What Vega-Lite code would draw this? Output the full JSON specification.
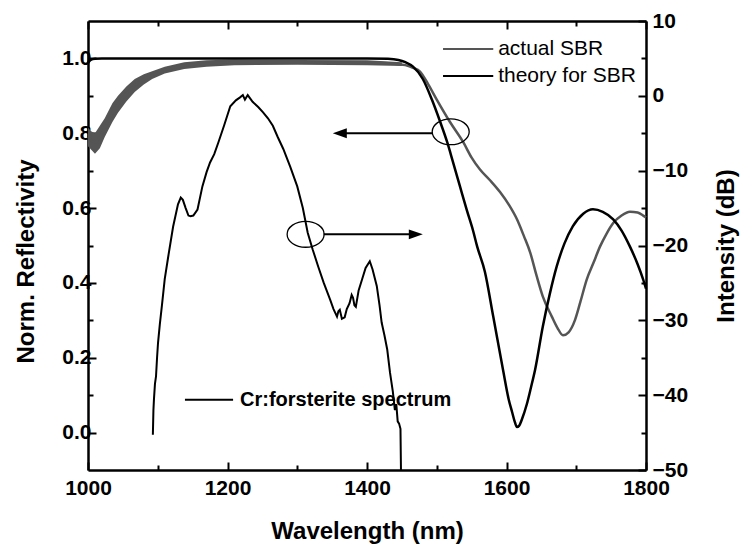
{
  "$schema": "https://vega.github.io/schema/vega-lite/v6.json",
  "width": 558,
  "height": 449,
  "autosize": "none",
  "padding": {"left": 88, "top": 21, "right": 94, "bottom": 74},
  "background": "white",
  "datasets": {
    "band": [
      {"nm": 1000, "lo": 0.765, "hi": 0.815},
      {"nm": 1005, "lo": 0.755, "hi": 0.805},
      {"nm": 1010, "lo": 0.745, "hi": 0.8},
      {"nm": 1017, "lo": 0.76, "hi": 0.82},
      {"nm": 1024, "lo": 0.79, "hi": 0.84},
      {"nm": 1035, "lo": 0.83, "hi": 0.88},
      {"nm": 1043, "lo": 0.855, "hi": 0.9},
      {"nm": 1055, "lo": 0.885, "hi": 0.925},
      {"nm": 1067, "lo": 0.91, "hi": 0.945},
      {"nm": 1080, "lo": 0.93, "hi": 0.958},
      {"nm": 1092, "lo": 0.945, "hi": 0.966},
      {"nm": 1110, "lo": 0.96, "hi": 0.978},
      {"nm": 1138, "lo": 0.972, "hi": 0.99},
      {"nm": 1170, "lo": 0.978, "hi": 0.995},
      {"nm": 1210, "lo": 0.982, "hi": 0.997},
      {"nm": 1300, "lo": 0.983, "hi": 0.996},
      {"nm": 1400, "lo": 0.982, "hi": 0.995},
      {"nm": 1450, "lo": 0.98, "hi": 0.99}
    ],
    "actual": [
      {"nm": 1000, "r": 0.79}, {"nm": 1005, "r": 0.78}, {"nm": 1010, "r": 0.775},
      {"nm": 1017, "r": 0.79}, {"nm": 1024, "r": 0.815}, {"nm": 1035, "r": 0.855},
      {"nm": 1043, "r": 0.878}, {"nm": 1055, "r": 0.905}, {"nm": 1067, "r": 0.928},
      {"nm": 1080, "r": 0.944}, {"nm": 1092, "r": 0.955}, {"nm": 1110, "r": 0.969},
      {"nm": 1138, "r": 0.981}, {"nm": 1170, "r": 0.986}, {"nm": 1210, "r": 0.99},
      {"nm": 1300, "r": 0.99}, {"nm": 1400, "r": 0.989}, {"nm": 1440, "r": 0.986},
      {"nm": 1455, "r": 0.982}, {"nm": 1466, "r": 0.975}, {"nm": 1476, "r": 0.965},
      {"nm": 1488, "r": 0.93}, {"nm": 1500, "r": 0.89}, {"nm": 1519, "r": 0.83},
      {"nm": 1538, "r": 0.776}, {"nm": 1550, "r": 0.735}, {"nm": 1562, "r": 0.703},
      {"nm": 1576, "r": 0.675}, {"nm": 1591, "r": 0.642}, {"nm": 1604, "r": 0.607},
      {"nm": 1615, "r": 0.57}, {"nm": 1625, "r": 0.525}, {"nm": 1634, "r": 0.481},
      {"nm": 1643, "r": 0.42}, {"nm": 1652, "r": 0.364}, {"nm": 1665, "r": 0.31},
      {"nm": 1673, "r": 0.28}, {"nm": 1681, "r": 0.26}, {"nm": 1689, "r": 0.268},
      {"nm": 1698, "r": 0.3}, {"nm": 1706, "r": 0.35}, {"nm": 1715, "r": 0.409},
      {"nm": 1725, "r": 0.455}, {"nm": 1734, "r": 0.497}, {"nm": 1743, "r": 0.53},
      {"nm": 1753, "r": 0.56}, {"nm": 1765, "r": 0.58}, {"nm": 1777, "r": 0.59},
      {"nm": 1788, "r": 0.588}, {"nm": 1796, "r": 0.58}, {"nm": 1800, "r": 0.575}
    ],
    "theory": [
      {"nm": 1000, "r": 0.99}, {"nm": 1004, "r": 0.996}, {"nm": 1010, "r": 0.999},
      {"nm": 1020, "r": 1.0}, {"nm": 1100, "r": 1.0}, {"nm": 1200, "r": 1.0},
      {"nm": 1300, "r": 1.0}, {"nm": 1400, "r": 1.0}, {"nm": 1430, "r": 0.999},
      {"nm": 1445, "r": 0.996}, {"nm": 1455, "r": 0.99}, {"nm": 1466, "r": 0.978},
      {"nm": 1480, "r": 0.945}, {"nm": 1493, "r": 0.89}, {"nm": 1505, "r": 0.83},
      {"nm": 1515, "r": 0.776}, {"nm": 1523, "r": 0.725}, {"nm": 1533, "r": 0.66},
      {"nm": 1543, "r": 0.595}, {"nm": 1552, "r": 0.54}, {"nm": 1558, "r": 0.497},
      {"nm": 1569, "r": 0.43}, {"nm": 1581, "r": 0.31}, {"nm": 1595, "r": 0.168},
      {"nm": 1603, "r": 0.09}, {"nm": 1608, "r": 0.055}, {"nm": 1612, "r": 0.028},
      {"nm": 1615, "r": 0.015}, {"nm": 1618, "r": 0.018}, {"nm": 1622, "r": 0.035},
      {"nm": 1629, "r": 0.075}, {"nm": 1635, "r": 0.12}, {"nm": 1641, "r": 0.168},
      {"nm": 1652, "r": 0.283}, {"nm": 1662, "r": 0.37}, {"nm": 1672, "r": 0.444},
      {"nm": 1683, "r": 0.505}, {"nm": 1695, "r": 0.551}, {"nm": 1710, "r": 0.585},
      {"nm": 1724, "r": 0.597}, {"nm": 1738, "r": 0.59}, {"nm": 1753, "r": 0.57},
      {"nm": 1765, "r": 0.54}, {"nm": 1777, "r": 0.497}, {"nm": 1788, "r": 0.45},
      {"nm": 1796, "r": 0.409}, {"nm": 1800, "r": 0.385}
    ],
    "spectrum": [
      {"nm": 1093, "db": -45.3}, {"nm": 1093.8, "db": -42}, {"nm": 1094.6, "db": -40.5},
      {"nm": 1096, "db": -38.5}, {"nm": 1097.5, "db": -37.5}, {"nm": 1099, "db": -35},
      {"nm": 1100.4, "db": -33}, {"nm": 1103, "db": -30.5}, {"nm": 1106, "db": -28},
      {"nm": 1110, "db": -24.5}, {"nm": 1115, "db": -21.5}, {"nm": 1122, "db": -17.5},
      {"nm": 1129, "db": -14.5}, {"nm": 1133, "db": -13.6}, {"nm": 1136, "db": -13.9},
      {"nm": 1140, "db": -15}, {"nm": 1144, "db": -16}, {"nm": 1147, "db": -16.1},
      {"nm": 1151, "db": -16}, {"nm": 1157, "db": -15.2}, {"nm": 1164, "db": -12.1},
      {"nm": 1170, "db": -10.2}, {"nm": 1175, "db": -8.9}, {"nm": 1181, "db": -7.8},
      {"nm": 1187, "db": -6.2}, {"nm": 1195, "db": -4}, {"nm": 1204, "db": -1.4},
      {"nm": 1212, "db": -0.6}, {"nm": 1218, "db": -0.2}, {"nm": 1222, "db": 0.1},
      {"nm": 1225, "db": -0.5}, {"nm": 1229, "db": 0.1}, {"nm": 1236, "db": -0.8},
      {"nm": 1244, "db": -1.5}, {"nm": 1251, "db": -2.2}, {"nm": 1258, "db": -3},
      {"nm": 1265, "db": -4}, {"nm": 1272, "db": -5.5}, {"nm": 1280, "db": -7.1},
      {"nm": 1290, "db": -9.5}, {"nm": 1300, "db": -12.1}, {"nm": 1308, "db": -15},
      {"nm": 1315, "db": -18.3}, {"nm": 1322, "db": -20.5}, {"nm": 1330, "db": -22.8},
      {"nm": 1338, "db": -25}, {"nm": 1347, "db": -27.2}, {"nm": 1352, "db": -28.5},
      {"nm": 1357, "db": -29.5}, {"nm": 1359, "db": -28.8}, {"nm": 1361, "db": -28.6},
      {"nm": 1364, "db": -29.8}, {"nm": 1368, "db": -29.6}, {"nm": 1371, "db": -28.5},
      {"nm": 1375, "db": -27.7}, {"nm": 1378, "db": -26.6}, {"nm": 1380, "db": -27},
      {"nm": 1382, "db": -28}, {"nm": 1384, "db": -28.2}, {"nm": 1388, "db": -26},
      {"nm": 1393, "db": -24.5}, {"nm": 1398, "db": -23}, {"nm": 1404, "db": -22.1},
      {"nm": 1408, "db": -23.2}, {"nm": 1414, "db": -25.4}, {"nm": 1418, "db": -28},
      {"nm": 1421, "db": -30.3}, {"nm": 1425, "db": -32}, {"nm": 1429, "db": -33.9},
      {"nm": 1433, "db": -37}, {"nm": 1437, "db": -39.5}, {"nm": 1440, "db": -42},
      {"nm": 1442, "db": -41.2}, {"nm": 1444, "db": -43.5}, {"nm": 1446, "db": -43.8},
      {"nm": 1448, "db": -44.5}, {"nm": 1448.7, "db": -50}
    ],
    "one": [{}]
  },
  "layer": [
    {
      "data": {"name": "band"},
      "mark": {"type": "area", "color": "#555555", "opacity": 1},
      "encoding": {
        "x": {"field": "nm", "type": "quantitative", "scale": {"domain": [1000, 1800], "nice": false, "zero": false},
          "axis": {"orient": "bottom", "values": [1000, 1100, 1200, 1300, 1400, 1500, 1600, 1700, 1800],
            "labelExpr": "datum.value % 200 === 0 ? datum.label : ''", "format": "d",
            "tickSize": {"condition": {"test": "datum.value % 200 === 0", "value": -8}, "value": -5},
            "labelPadding": 15, "title": "Wavelength (nm)", "titlePadding": 18}},
        "y": {"field": "lo", "type": "quantitative", "scale": {"domain": [-0.1, 1.1], "nice": false, "zero": false},
          "axis": {"orient": "left", "values": [0, 0.1, 0.2, 0.3, 0.4, 0.5, 0.6, 0.7, 0.8, 0.9, 1.0],
            "labelExpr": "round(datum.value*10) % 2 === 0 ? format(datum.value, '.1f') : ''",
            "tickSize": {"condition": {"test": "round(datum.value*10) % 2 === 0", "value": -8}, "value": -5},
            "labelPadding": 5, "title": "Norm. Reflectivity", "titlePadding": 23, "titleY": 240}},
        "y2": {"field": "hi"}
      }
    },
    {
      "data": {"name": "actual"},
      "mark": {"type": "line", "color": "#555555", "strokeWidth": 2.5, "interpolate": "monotone"},
      "encoding": {
        "x": {"field": "nm", "type": "quantitative", "scale": {"domain": [1000, 1800], "nice": false, "zero": false}, "axis": null},
        "y": {"field": "r", "type": "quantitative", "scale": {"domain": [-0.1, 1.1], "nice": false, "zero": false}, "axis": null}
      }
    },
    {
      "data": {"name": "theory"},
      "mark": {"type": "line", "color": "black", "strokeWidth": 2.5, "interpolate": "monotone"},
      "encoding": {
        "x": {"field": "nm", "type": "quantitative", "scale": {"domain": [1000, 1800], "nice": false, "zero": false},
          "axis": {"orient": "top", "values": [1000, 1100, 1200, 1300, 1400, 1500, 1600, 1700, 1800], "labels": false, "title": null,
            "tickSize": {"condition": {"test": "datum.value % 200 === 0", "value": -8}, "value": -5}}},
        "y": {"field": "r", "type": "quantitative", "scale": {"domain": [-0.1, 1.1], "nice": false, "zero": false}, "axis": null}
      }
    },
    {
      "data": {"name": "spectrum"},
      "mark": {"type": "line", "color": "black", "strokeWidth": 2},
      "encoding": {
        "x": {"field": "nm", "type": "quantitative", "scale": {"domain": [1000, 1800], "nice": false, "zero": false}, "axis": null},
        "y": {"field": "db", "type": "quantitative", "scale": {"domain": [-50, 10], "nice": false, "zero": false},
          "axis": {"orient": "right", "values": [-50, -45, -40, -35, -30, -25, -20, -15, -10, -5, 0, 5, 10],
            "labelExpr": "datum.value % 10 === 0 ? datum.label : ''",
            "tickSize": {"condition": {"test": "datum.value % 10 === 0", "value": -8}, "value": -5},
            "labelPadding": 14, "title": "Intensity (dB)", "titleAngle": 270, "titleBaseline": "top", "titlePadding": 27}}
      }
    },
    {
      "data": {"name": "one"},
      "mark": {"type": "rule", "color": "#555555", "strokeWidth": 2},
      "encoding": {
        "x": {"datum": 1509, "type": "quantitative", "scale": {"domain": [1000, 1800], "nice": false, "zero": false}, "axis": null},
        "x2": {"datum": 1581},
        "y": {"datum": 1.025, "type": "quantitative", "scale": {"domain": [-0.1, 1.1], "nice": false, "zero": false}, "axis": null}
      }
    },
    {
      "data": {"name": "one"},
      "mark": {"type": "rule", "color": "black", "strokeWidth": 2},
      "encoding": {
        "x": {"datum": 1509, "type": "quantitative", "scale": {"domain": [1000, 1800], "nice": false, "zero": false}, "axis": null},
        "x2": {"datum": 1581},
        "y": {"datum": 0.953, "type": "quantitative", "scale": {"domain": [-0.1, 1.1], "nice": false, "zero": false}, "axis": null}
      }
    },
    {
      "data": {"name": "one"},
      "mark": {"type": "text", "align": "left", "baseline": "middle", "font": "Liberation Sans", "fontSize": 21, "color": "black"},
      "encoding": {
        "x": {"datum": 1588, "type": "quantitative", "scale": {"domain": [1000, 1800], "nice": false, "zero": false}, "axis": null},
        "y": {"datum": 1.025, "type": "quantitative", "scale": {"domain": [-0.1, 1.1], "nice": false, "zero": false}, "axis": null},
        "text": {"value": "actual SBR"}
      }
    },
    {
      "data": {"name": "one"},
      "mark": {"type": "text", "align": "left", "baseline": "middle", "font": "Liberation Sans", "fontSize": 21, "color": "black"},
      "encoding": {
        "x": {"datum": 1588, "type": "quantitative", "scale": {"domain": [1000, 1800], "nice": false, "zero": false}, "axis": null},
        "y": {"datum": 0.953, "type": "quantitative", "scale": {"domain": [-0.1, 1.1], "nice": false, "zero": false}, "axis": null},
        "text": {"value": "theory for SBR"}
      }
    },
    {
      "data": {"name": "one"},
      "mark": {"type": "point", "shape": "M-1,0A1,0.7,0,1,1,1,0A1,0.7,0,1,1,-1,0Z", "filled": false, "stroke": "black", "strokeWidth": 1.3, "size": 1369, "opacity": 1},
      "encoding": {
        "x": {"datum": 1520, "type": "quantitative", "scale": {"domain": [1000, 1800], "nice": false, "zero": false}, "axis": null},
        "y": {"datum": 0.804, "type": "quantitative", "scale": {"domain": [-0.1, 1.1], "nice": false, "zero": false}, "axis": null}
      }
    },
    {
      "data": {"name": "one"},
      "mark": {"type": "rule", "color": "black", "strokeWidth": 2},
      "encoding": {
        "x": {"datum": 1365, "type": "quantitative", "scale": {"domain": [1000, 1800], "nice": false, "zero": false}, "axis": null},
        "x2": {"datum": 1494},
        "y": {"datum": 0.8, "type": "quantitative", "scale": {"domain": [-0.1, 1.1], "nice": false, "zero": false}, "axis": null}
      }
    },
    {
      "data": {"name": "one"},
      "mark": {"type": "point", "shape": "M1,-0.7L-1,0L1,0.7Z", "filled": true, "color": "black", "size": 196, "opacity": 1},
      "encoding": {
        "x": {"datum": 1361, "type": "quantitative", "scale": {"domain": [1000, 1800], "nice": false, "zero": false}, "axis": null},
        "y": {"datum": 0.8, "type": "quantitative", "scale": {"domain": [-0.1, 1.1], "nice": false, "zero": false}, "axis": null}
      }
    },
    {
      "data": {"name": "one"},
      "mark": {"type": "rule", "color": "black", "strokeWidth": 2},
      "encoding": {
        "x": {"datum": 1139, "type": "quantitative", "scale": {"domain": [1000, 1800], "nice": false, "zero": false}, "axis": null},
        "x2": {"datum": 1208},
        "y": {"datum": -40.6, "type": "quantitative", "scale": {"domain": [-50, 10], "nice": false, "zero": false}, "axis": null}
      }
    },
    {
      "data": {"name": "one"},
      "mark": {"type": "text", "align": "left", "baseline": "middle", "font": "Liberation Sans", "fontWeight": "bold", "fontSize": 20, "color": "black"},
      "encoding": {
        "x": {"datum": 1218, "type": "quantitative", "scale": {"domain": [1000, 1800], "nice": false, "zero": false}, "axis": null},
        "y": {"datum": -40.6, "type": "quantitative", "scale": {"domain": [-50, 10], "nice": false, "zero": false}, "axis": null},
        "text": {"value": "Cr:forsterite spectrum"}
      }
    },
    {
      "data": {"name": "one"},
      "mark": {"type": "point", "shape": "M-1,0A1,0.7,0,1,1,1,0A1,0.7,0,1,1,-1,0Z", "filled": false, "stroke": "black", "strokeWidth": 1.3, "size": 1369, "opacity": 1},
      "encoding": {
        "x": {"datum": 1312, "type": "quantitative", "scale": {"domain": [1000, 1800], "nice": false, "zero": false}, "axis": null},
        "y": {"datum": -18.5, "type": "quantitative", "scale": {"domain": [-50, 10], "nice": false, "zero": false}, "axis": null}
      }
    },
    {
      "data": {"name": "one"},
      "mark": {"type": "rule", "color": "black", "strokeWidth": 2},
      "encoding": {
        "x": {"datum": 1338, "type": "quantitative", "scale": {"domain": [1000, 1800], "nice": false, "zero": false}, "axis": null},
        "x2": {"datum": 1466},
        "y": {"datum": -18.5, "type": "quantitative", "scale": {"domain": [-50, 10], "nice": false, "zero": false}, "axis": null}
      }
    },
    {
      "data": {"name": "one"},
      "mark": {"type": "point", "shape": "M-1,-0.7L1,0L-1,0.7Z", "filled": true, "color": "black", "size": 196, "opacity": 1},
      "encoding": {
        "x": {"datum": 1470, "type": "quantitative", "scale": {"domain": [1000, 1800], "nice": false, "zero": false}, "axis": null},
        "y": {"datum": -18.5, "type": "quantitative", "scale": {"domain": [-50, 10], "nice": false, "zero": false}, "axis": null}
      }
    }
  ],
  "resolve": {"scale": {"y": "independent"}},
  "config": {
    "font": "Liberation Sans",
    "view": {"stroke": null},
    "axis": {
      "grid": false,
      "domainColor": "black",
      "domainWidth": 2.5,
      "tickColor": "black",
      "tickWidth": 2,
      "labelColor": "black",
      "titleColor": "black",
      "labelFont": "Liberation Sans",
      "labelFontWeight": "bold",
      "labelFontSize": 21,
      "titleFont": "Liberation Sans",
      "titleFontWeight": "bold",
      "titleFontSize": 24,
      "labelFlush": false,
      "labelOverlap": false
    }
  }
}
